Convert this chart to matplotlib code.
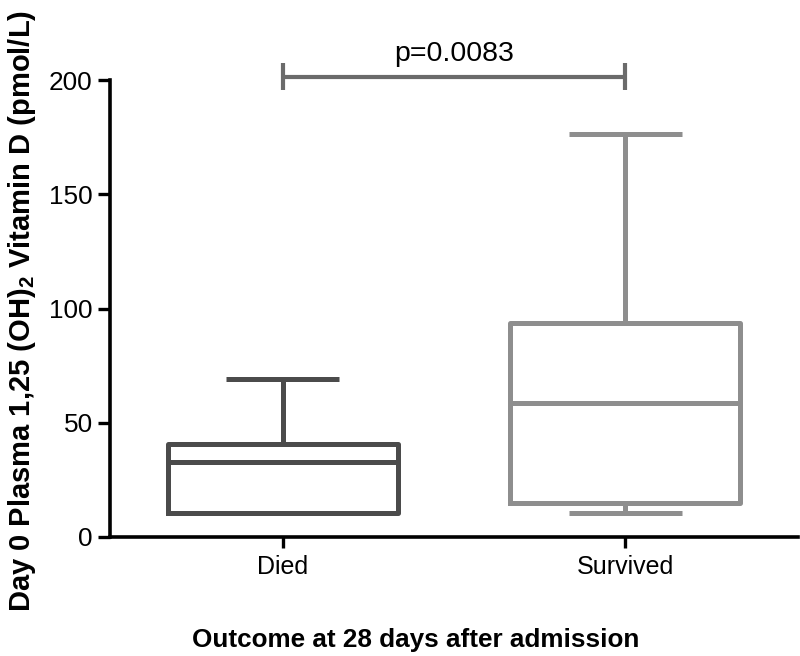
import matplotlib
matplotlib.use("Agg")
import matplotlib.pyplot as plt

plt.rcParams['font.family'] = ['Liberation Sans', 'DejaVu Sans']

# Data (summary statistics)
groups = ["Died", "Survived"]
whisker_low = [10.6, 10.4]
q1 = [10.6, 15.0]
median = [33.0, 58.8]
q3 = [40.6, 93.5]
whisker_high = [69.1, 176.4]
colors = ["#4b4b4b", "#8e8e8e"]
p_text = "p=0.0083"
y_ticks = [0, 50, 100, 150, 200]

fig = plt.figure(figsize=(8, 6.56), dpi=100)
ax = fig.add_axes([110/800, (656-537)/656, 688/800, 457/656])

stats = []
for i, g in enumerate(groups):
    stats.append(dict(label=g, whislo=whisker_low[i], q1=q1[i], med=median[i],
                      q3=q3[i], whishi=whisker_high[i], fliers=[]))

lw = 3.6
for i, s in enumerate(stats):
    c = colors[i]
    ax.bxp([s], positions=[i], widths=0.67, showfliers=False,
           boxprops=dict(color=c, linewidth=lw, solid_joinstyle='round'),
           medianprops=dict(color=c, linewidth=lw, solid_capstyle='butt'),
           whiskerprops=dict(color=c, linewidth=lw),
           capprops=dict(color=c, linewidth=lw, solid_capstyle='butt'),
           capwidths=0.33, manage_ticks=False)

ax.set_xlim(-0.505, 1.505)
ax.set_ylim(0, 200)
ax.set_xticks([0, 1])
ax.set_xticklabels(groups)
ax.set_yticks(y_ticks)

for sp in ['top', 'right']:
    ax.spines[sp].set_visible(False)
for sp in ['left', 'bottom']:
    ax.spines[sp].set_linewidth(2.6)
    ax.spines[sp].set_color('black')

ax.tick_params(axis='y', length=9, width=2.4, labelsize=18.8, pad=3.5)
ax.tick_params(axis='x', length=8, width=2.4, labelsize=18, pad=5)

# significance bar
sig_color = "#6b6b6b"
ybar = 201.5
ax.plot([0, 1], [ybar, ybar], color=sig_color, lw=3, clip_on=False, solid_capstyle='butt')
for x in [0, 1]:
    ax.plot([x, x], [ybar - 6, ybar + 6], color=sig_color, lw=3, clip_on=False, solid_capstyle='butt')
ax.text(0.5, 208.4, p_text, ha='center', va='baseline', fontsize=20.5, clip_on=False)

ax.set_ylabel(r"Day 0 Plasma 1,25 (OH)$_\mathregular{2}$ Vitamin D (pmol/L)",
              fontsize=21, fontweight='bold')
ax.yaxis.set_label_coords(-0.105, 0.494)
ax.set_xlabel("Outcome at 28 days after admission", fontsize=18.8, fontweight='bold')
ax.xaxis.set_label_coords(0.444, -0.2)

fig.savefig("out.png", dpi=100)
